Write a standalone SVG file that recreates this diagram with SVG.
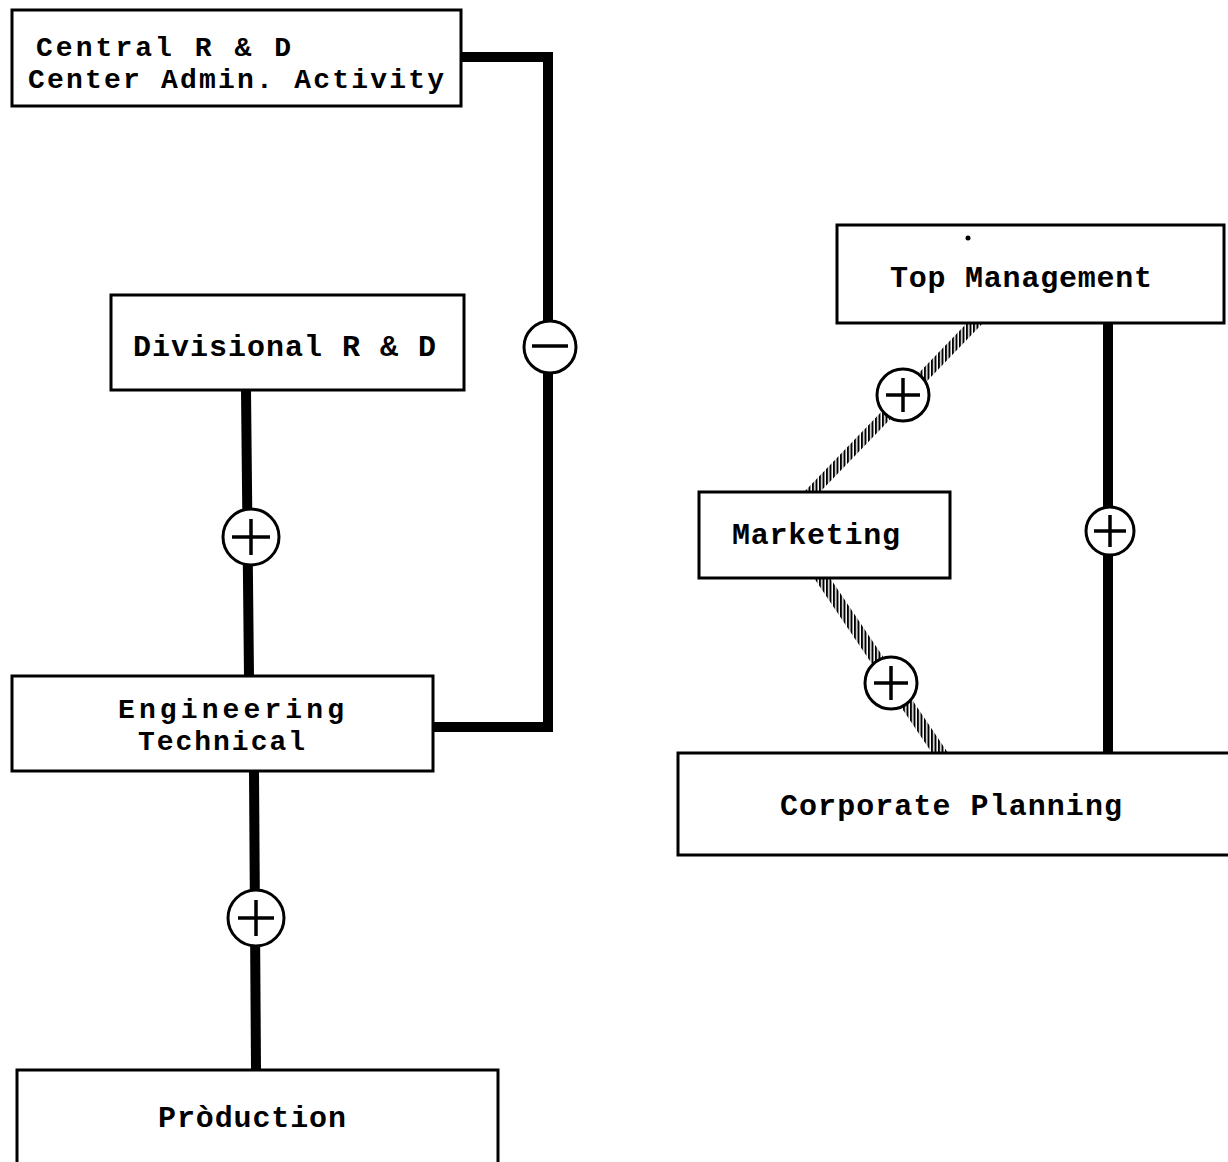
<svg xmlns="http://www.w3.org/2000/svg" width="1228" height="1162" viewBox="0 0 1228 1162">
<style>
.box{fill:#fff;stroke:#000;stroke-width:3}
.lbl{font-family:"Liberation Mono","Courier New",monospace;font-size:30px;fill:#000;font-weight:bold}
.sm{font-size:28px}
.thick{fill:none;stroke:#000;stroke-width:10}
.sign{fill:#fff;stroke:#000;stroke-width:3}
.mark{stroke:#000;stroke-width:3.5;fill:none}
</style>
<defs>
<pattern id="hatch" patternUnits="userSpaceOnUse" width="3.5" height="4">
<rect x="0" y="0" width="2" height="4" fill="#000"/>
</pattern>
</defs>
<rect width="1228" height="1162" fill="#fff"/>
<g id="connectors">
<polyline class="thick" points="461,57 548,57 548,727 433,727"/>
<line class="thick" x1="246" y1="390" x2="249" y2="676"/>
<line class="thick" x1="254" y1="771" x2="256" y2="1070"/>
<line class="thick" x1="1108" y1="323" x2="1108" y2="753"/>
<polygon points="804,492 820,492 983,323 967,323" fill="url(#hatch)"/>
<polygon points="814,578 830,578 948,753 932,753" fill="url(#hatch)"/>
<g id="sign-minus"><circle class="sign" cx="550" cy="347" r="26"/><line class="mark" x1="532" y1="346" x2="568" y2="346"/></g>
<g id="sign-div-eng"><circle class="sign" cx="251" cy="537" r="28"/><line class="mark" x1="232" y1="537" x2="270" y2="537"/><line class="mark" x1="251" y1="519" x2="251" y2="555"/></g>
<g id="sign-eng-prod"><circle class="sign" cx="256" cy="918" r="28"/><line class="mark" x1="238" y1="918" x2="274" y2="918"/><line class="mark" x1="256" y1="900" x2="256" y2="936"/></g>
<g id="sign-top-corp"><circle class="sign" cx="1110" cy="531" r="24"/><line class="mark" x1="1094" y1="531" x2="1126" y2="531"/><line class="mark" x1="1110" y1="515" x2="1110" y2="547"/></g>
<g id="sign-top-mkt"><circle class="sign" cx="903" cy="395" r="26"/><line class="mark" x1="886" y1="395" x2="920" y2="395"/><line class="mark" x1="903" y1="378" x2="903" y2="412"/></g>
<g id="sign-mkt-corp"><circle class="sign" cx="891" cy="683" r="26"/><line class="mark" x1="874" y1="683" x2="908" y2="683"/><line class="mark" x1="891" y1="666" x2="891" y2="700"/></g>
</g>
<g id="central-rd">
<rect class="box" x="12" y="10" width="449" height="96"/>
<text class="lbl sm" x="36" y="56" textLength="255">Central R &amp; D</text>
<text class="lbl sm" x="28" y="88" textLength="416">Center Admin. Activity</text>
</g>
<g id="divisional-rd">
<rect class="box" x="111" y="295" width="353" height="95"/>
<text class="lbl" x="133" y="356" textLength="303">Divisional R &amp; D</text>
</g>
<g id="engineering">
<rect class="box" x="12" y="676" width="421" height="95"/>
<text class="lbl sm" x="118" y="718" textLength="226">Engineering</text>
<text class="lbl sm" x="138" y="750" textLength="167">Technical</text>
</g>
<g id="production">
<rect class="box" x="17" y="1070" width="481" height="100"/>
<text class="lbl" x="158" y="1127" textLength="188">Pròduction</text>
</g>
<g id="top-management">
<rect class="box" x="837" y="225" width="387" height="98"/>
<circle cx="968" cy="238" r="2.5" fill="#000"/>
<text class="lbl" x="890" y="287" textLength="262">Top Management</text>
</g>
<g id="marketing">
<rect class="box" x="699" y="492" width="251" height="86"/>
<text class="lbl" x="732" y="544" textLength="168">Marketing</text>
</g>
<g id="corporate-planning">
<rect class="box" x="678" y="753" width="560" height="102"/>
<text class="lbl" x="780" y="815" textLength="342">Corporate Planning</text>
</g>
</svg>
